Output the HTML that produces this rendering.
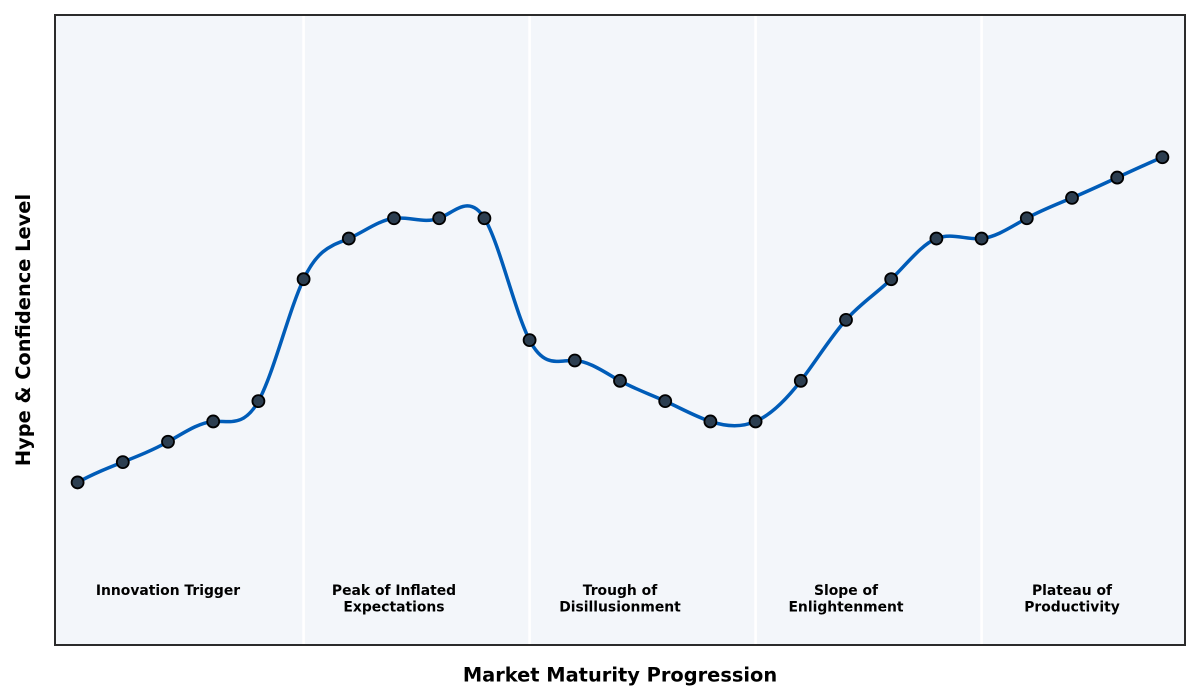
<!DOCTYPE html>
<html>
<head>
<meta charset="utf-8">
<style>
  html, body { margin: 0; padding: 0; background: #ffffff; }
  svg { display: block; }
  text { font-family: "DejaVu Sans", "Liberation Sans", sans-serif; font-weight: bold; fill: #000; }
</style>
</head>
<body>
<svg id="chart" width="1200" height="700" viewBox="0 0 1200 700" xmlns="http://www.w3.org/2000/svg">
  <rect x="0" y="0" width="1200" height="700" fill="#ffffff"/>
  <rect x="55" y="15" width="1130" height="630" fill="#f3f6fa"/>
  <!-- phase separators -->
  <line x1="303.6" y1="15" x2="303.6" y2="645" stroke="#ffffff" stroke-width="2.6"/>
  <line x1="529.6" y1="15" x2="529.6" y2="645" stroke="#ffffff" stroke-width="2.6"/>
  <line x1="755.6" y1="15" x2="755.6" y2="645" stroke="#ffffff" stroke-width="2.6"/>
  <line x1="981.6" y1="15" x2="981.6" y2="645" stroke="#ffffff" stroke-width="2.6"/>

  <!-- phase labels -->
  <g font-size="13.9" text-anchor="middle">
    <text x="168" y="595">Innovation Trigger</text>
    <text x="394" y="595">Peak of Inflated</text>
    <text x="394" y="611.5">Expectations</text>
    <text x="620" y="595">Trough of</text>
    <text x="620" y="611.5">Disillusionment</text>
    <text x="846" y="595">Slope of</text>
    <text x="846" y="611.5">Enlightenment</text>
    <text x="1072" y="595">Plateau of</text>
    <text x="1072" y="611.5">Productivity</text>
  </g>

  <path id="curve" d="" fill="none" stroke="#005cb8" stroke-width="3.5" stroke-linecap="round" stroke-linejoin="round"/>
  <g id="markers"></g>

  <!-- frame -->
  <rect x="55" y="15" width="1130" height="630" fill="none" stroke="#2b2b2b" stroke-width="2"/>

  <!-- axis labels -->
  <text x="620" y="681.5" font-size="19.4" text-anchor="middle">Market Maturity Progression</text>
  <text transform="translate(30,330) rotate(-90)" font-size="19.4" text-anchor="middle">Hype &amp; Confidence Level</text>
</svg>
<script>
(function(){
  var Y=[20,21,22,23,24,30,32,33,33,33,27,26,25,24,23,23,25,28,30,32,32,33,34,35,36];
  var n=Y.length;
  function px(i){return 55+45.2*(i+0.5);}
  function py(v){return 645-(v-12)*630/31;}
  var A=[],b=[];
  for(var i=0;i<n;i++){A.push(new Array(n).fill(0));b.push(0);}
  A[0][0]=1;A[0][1]=-2;A[0][2]=1;b[0]=0;
  for(var i=1;i<n-1;i++){A[i][i-1]=1;A[i][i]=4;A[i][i+1]=1;b[i]=6*(Y[i+1]-2*Y[i]+Y[i-1]);}
  A[n-1][n-3]=1;A[n-1][n-2]=-2;A[n-1][n-1]=1;b[n-1]=0;
  for(var k=0;k<n;k++){
    var p=k,mx=Math.abs(A[k][k]);
    for(var r=k+1;r<n;r++){if(Math.abs(A[r][k])>mx){mx=Math.abs(A[r][k]);p=r;}}
    if(p!==k){var t=A[k];A[k]=A[p];A[p]=t;var tb=b[k];b[k]=b[p];b[p]=tb;}
    for(var r=k+1;r<n;r++){
      var f=A[r][k]/A[k][k];
      if(f!==0){for(var c=k;c<n;c++){A[r][c]-=f*A[k][c];}b[r]-=f*b[k];}
    }
  }
  var M=new Array(n).fill(0);
  for(var k=n-1;k>=0;k--){
    var s=b[k];
    for(var c=k+1;c<n;c++){s-=A[k][c]*M[c];}
    M[k]=s/A[k][k];
  }
  var d="M"+px(0).toFixed(2)+","+py(Y[0]).toFixed(2);
  for(var i=0;i<n-1;i++){
    var dy=Y[i+1]-Y[i];
    var d0=dy-(2*M[i]+M[i+1])/6;
    var d1=dy+(M[i]+2*M[i+1])/6;
    var x0=px(i),x1=px(i+1),dx=x1-x0;
    d+=" C"+(x0+dx/3).toFixed(2)+","+py(Y[i]+d0/3).toFixed(2)+" "+
        (x1-dx/3).toFixed(2)+","+py(Y[i+1]-d1/3).toFixed(2)+" "+
        x1.toFixed(2)+","+py(Y[i+1]).toFixed(2);
  }
  document.getElementById("curve").setAttribute("d",d);
  var g=document.getElementById("markers");
  var ns="http://www.w3.org/2000/svg";
  for(var i=0;i<n;i++){
    var c=document.createElementNS(ns,"circle");
    c.setAttribute("cx",px(i).toFixed(2));
    c.setAttribute("cy",py(Y[i]).toFixed(2));
    c.setAttribute("r","6");
    c.setAttribute("fill","#2c3e50");
    c.setAttribute("stroke","#000000");
    c.setAttribute("stroke-width","1.8");
    g.appendChild(c);
  }
})();
</script>
</body>
</html>
